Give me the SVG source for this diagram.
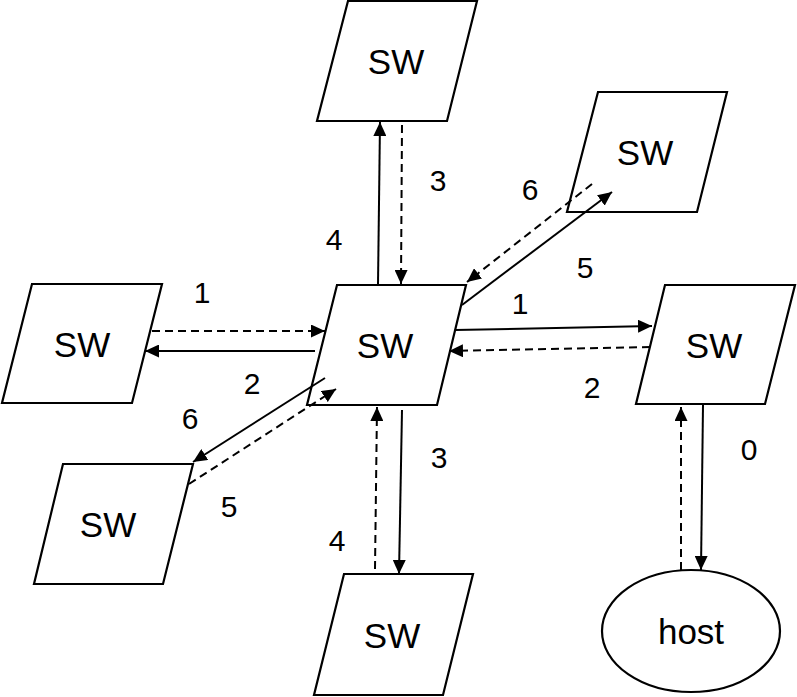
<svg xmlns="http://www.w3.org/2000/svg" width="797" height="697" viewBox="0 0 797 697">
<style>
.node{fill:#fff;stroke:#000;stroke-width:2.2}
.lbl{font-family:"Liberation Sans",Arial,sans-serif;font-size:35px;fill:#000;text-anchor:middle;dominant-baseline:central}
.num{font-family:"Liberation Sans",Arial,sans-serif;font-size:30px;fill:#000;text-anchor:middle}
.s{stroke:#000;stroke-width:2;fill:none;marker-end:url(#ah)}
.d{stroke:#000;stroke-width:2;fill:none;stroke-dasharray:8,5;marker-end:url(#ah)}
</style>
<defs>
<marker id="ah" markerWidth="15" markerHeight="13" refX="14" refY="6.5" orient="auto" markerUnits="userSpaceOnUse"><path d="M0,0 L14,6.5 L0,13 z" fill="#000"/></marker>
</defs>
<rect width="797" height="697" fill="#fff"/>
<g id="sw-top"><polygon class="node" points="348,1 477,1 447,121 317,121"/><text class="lbl" x="396" y="61">SW</text></g>
<g id="sw-upright"><polygon class="node" points="598,92 727,92 697,212 567,212"/><text class="lbl" x="645" y="152">SW</text></g>
<g id="sw-left"><polygon class="node" points="32,284 162,284 132,403 2,403"/><text class="lbl" x="82" y="344">SW</text></g>
<g id="sw-center"><polygon class="node" points="337,285 466,285 437,405 307,405"/><text class="lbl" x="385" y="345">SW</text></g>
<g id="sw-right"><polygon class="node" points="665,285 795,285 765,404 636,404"/><text class="lbl" x="714" y="345">SW</text></g>
<g id="sw-lowleft"><polygon class="node" points="63,464 193,464 163,584 34,584"/><text class="lbl" x="108" y="524">SW</text></g>
<g id="sw-bottom"><polygon class="node" points="344,574 473,574 443,695 314,695"/><text class="lbl" x="392" y="635">SW</text></g>
<g id="host"><ellipse class="node" cx="691" cy="631" rx="89" ry="61"/><text class="lbl" x="691" y="631">host</text></g>
<g id="connectors">
<line class="d" x1="152" y1="331" x2="325" y2="331"/>
<line class="s" x1="315" y1="351" x2="145" y2="351"/>
<line class="s" x1="455" y1="330" x2="652" y2="326"/>
<line class="d" x1="650" y1="347" x2="449" y2="351"/>
<line class="s" x1="378" y1="285" x2="380" y2="122"/>
<line class="d" x1="402" y1="125" x2="401" y2="284"/>
<line class="s" x1="462" y1="305" x2="612" y2="192"/>
<line class="d" x1="592" y1="184" x2="467" y2="282"/>
<line class="s" x1="325" y1="378" x2="193" y2="462"/>
<line class="d" x1="189" y1="484" x2="336" y2="389"/>
<line class="s" x1="402" y1="410" x2="399" y2="574"/>
<line class="d" x1="375" y1="569" x2="377" y2="407"/>
<line class="s" x1="703" y1="405" x2="701" y2="570"/>
<line class="d" x1="681" y1="570" x2="681" y2="407"/>
</g>
<g id="labels">
<text class="num" x="202" y="303">1</text>
<text class="num" x="252" y="394">2</text>
<text class="num" x="190" y="429">6</text>
<text class="num" x="229" y="517">5</text>
<text class="num" x="334" y="250">4</text>
<text class="num" x="438" y="191">3</text>
<text class="num" x="530" y="200">6</text>
<text class="num" x="585" y="278">5</text>
<text class="num" x="520" y="314">1</text>
<text class="num" x="592" y="398">2</text>
<text class="num" x="439" y="468">3</text>
<text class="num" x="337" y="551">4</text>
<text class="num" x="749" y="460">0</text>
</g>
</svg>
